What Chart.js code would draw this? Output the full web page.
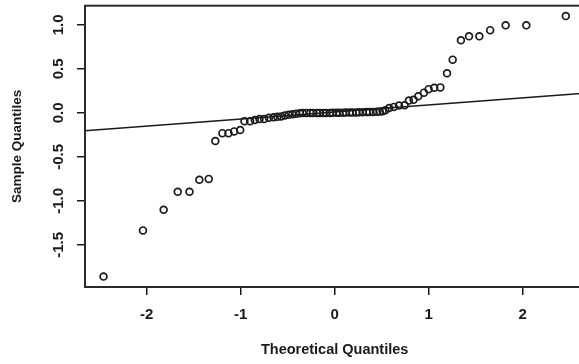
<!DOCTYPE html>
<html>
<head>
<meta charset="utf-8">
<script src="https://cdn.jsdelivr.net/npm/chart.js@4/dist/chart.umd.min.js"></script>
<style>
  html, body { margin: 0; padding: 0; overflow: hidden; background: #fff; }
  #wrap { width: 590px; height: 364px; }
</style>
</head>
<body>
<div id="wrap"><canvas id="qq"></canvas></div>
<script>
// theoretical quantiles (x) and sample quantiles (y)
const theoretical = [
  -2.46, -2.04, -1.82, -1.67, -1.545, -1.44, -1.34, -1.27, -1.195, -1.13, -1.07, -1.005,
  -0.96, -0.90, -0.85, -0.80, -0.75,
  -0.70, -0.65, -0.61, -0.57, -0.53, -0.49, -0.45, -0.41, -0.37, -0.34, -0.30, -0.26,
  -0.23, -0.19, -0.16, -0.12, -0.09, -0.05, -0.02, 0.02, 0.05, 0.09, 0.12, 0.16, 0.19,
  0.23, 0.26, 0.30, 0.34, 0.37, 0.41, 0.45, 0.48, 0.51, 0.54,
  0.58, 0.63, 0.685, 0.745, 0.79, 0.84, 0.89, 0.95, 1.00, 1.06, 1.125, 1.196, 1.256,
  1.344, 1.43, 1.54, 1.655, 1.82, 2.04, 2.46
]
const sample = [
  -1.86, -1.335, -1.10, -0.895, -0.895, -0.76, -0.75, -0.32, -0.23, -0.23, -0.21, -0.195,
  -0.095, -0.095, -0.08, -0.07, -0.07,
  -0.055, -0.05, -0.045, -0.04, -0.03, -0.022, -0.015, -0.01, -0.005, -0.002, 0.0, 0.0,
  0.0, 0.0, 0.0, 0.0, 0.0, 0.0, 0.001, 0.002, 0.002, 0.003, 0.004, 0.004, 0.005,
  0.006, 0.007, 0.008, 0.009, 0.01, 0.011, 0.012, 0.015, 0.02, 0.03,
  0.056, 0.068, 0.083, 0.087, 0.14, 0.15, 0.19, 0.23, 0.27, 0.285, 0.29, 0.45, 0.605,
  0.825, 0.87, 0.87, 0.94, 0.995, 0.995, 1.10
]

// qqline
const lineIntercept = 0.01
const lineSlope = 0.08

const xTicks = [-2, -1, 0, 1, 2]
const yTicks = [-1.5, -1.0, -0.5, 0.0, 0.5, 1.0]
const xRange = [-2.657, 2.657]
const yRange = [-1.978, 1.218]

const points = theoretical.map((x, i) => ({ x: x, y: sample[i] }))
const linePts = xRange.map(x => ({ x: x, y: lineIntercept + lineSlope * x }))

const ink = '#1a1a1a'
const tickFont = { family: 'Liberation Sans, Arial, sans-serif', size: 15, weight: 'bold' }

// R style box round the plot region
const boxPlugin = {
    id: 'box',
    afterDraw(chart) {
        const a = chart.chartArea
        const ctx = chart.ctx
        ctx.save()
        ctx.strokeStyle = '#2a2a2a'
        ctx.lineWidth = 2
        ctx.strokeRect(a.left, a.top, a.right - a.left, a.bottom - a.top)
        ctx.restore()
    }
}

// fixed axis sizes, no extra label padding
function fixSize(s, key, val) {
    s[key] = val
    s.paddingTop = 0
    s.paddingBottom = 0
    s.paddingLeft = 0
    s.paddingRight = 0
}

const config = {
    type: 'scatter',
    data: {
        datasets: [
            {
                label: 'qqline',
                data: linePts,
                showLine: true,
                borderColor: ink,
                borderWidth: 1.5,
                pointRadius: 0
            },
            {
                label: 'sample',
                data: points,
                pointStyle: 'circle',
                pointRadius: 3.4,
                pointBorderWidth: 1.7,
                borderColor: ink,
                backgroundColor: 'rgba(0,0,0,0)'
            }
        ]
    },
    options: {
        responsive: true,
        maintainAspectRatio: false,
        animation: false,
        layout: { padding: { top: 3, right: 3, left: 0, bottom: 0 } },
        plugins: {
            legend: { display: false },
            tooltip: { enabled: false }
        },
        scales: {
            x: {
                type: 'linear',
                min: xRange[0],
                max: xRange[1],
                afterBuildTicks: s => { s.ticks = xTicks.map(v => ({ value: v })) },
                afterFit: s => fixSize(s, 'height', 77),
                grid: { drawOnChartArea: false, drawTicks: true, tickLength: 8, color: ink, lineWidth: 1.5 },
                border: { display: false },
                ticks: {
                    color: ink,
                    font: tickFont,
                    padding: 11,
                    maxRotation: 0,
                    callback: v => String(v)
                },
                title: {
                    display: true,
                    text: 'Theoretical Quantiles',
                    color: ink,
                    font: { family: 'Liberation Sans, Arial, sans-serif', size: 14.5, weight: 'bold' },
                    padding: { top: 5, bottom: 5 }
                }
            },
            y: {
                type: 'linear',
                min: yRange[0],
                max: yRange[1],
                afterBuildTicks: s => { s.ticks = yTicks.map(v => ({ value: v })) },
                afterFit: s => fixSize(s, 'width', 85),
                grid: { drawOnChartArea: false, drawTicks: true, tickLength: 8, color: ink, lineWidth: 1.5 },
                border: { display: false },
                ticks: {
                    color: ink,
                    font: tickFont,
                    padding: 5,
                    minRotation: 90,
                    maxRotation: 90,
                    crossAlign: 'center',
                    callback: v => v.toFixed(1)
                },
                title: {
                    display: true,
                    text: 'Sample Quantiles',
                    color: ink,
                    font: { family: 'Liberation Sans, Arial, sans-serif', size: 13.5, weight: 'bold' },
                    padding: { top: 9, bottom: 9 }
                }
            }
        }
    },
    plugins: [boxPlugin]
}

var ctx = document.getElementById('qq')
var qqChart = new Chart(ctx, config)
</script>
</body>
</html>
